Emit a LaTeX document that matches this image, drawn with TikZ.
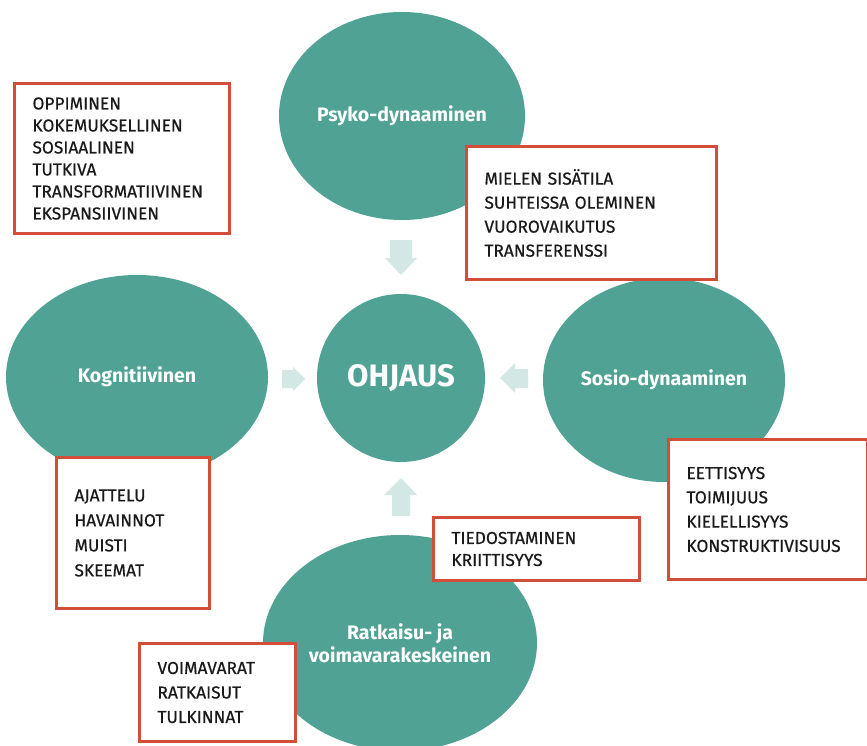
\documentclass[tikz,border=0pt]{standalone}
\usepackage{fontspec}
\setmainfont{Fira Sans}
\usetikzlibrary{shapes.geometric}
\definecolor{tealfill}{HTML}{50A295}
\definecolor{boxred}{HTML}{D24E38}
\definecolor{arrowfill}{HTML}{D3E7E4}
\definecolor{inktext}{HTML}{1A1A1A}
\tikzset{
  approach/.style={ellipse, fill=tealfill, text=white, font=\bfseries\fontsize{19.5}{23}\selectfont, align=center, inner sep=0pt},
  infobox/.style={draw=boxred, line width=3pt, fill=white, text=inktext, anchor=north west, align=left, inner xsep=18pt, inner ysep=0pt},
  flowarrow/.style={fill=arrowfill},
}
\newcommand\boxfont[1]{\fontsize{17.3}{#1}\selectfont\addfontfeatures{FakeBold=0.5}}
\begin{document}
\begin{tikzpicture}[x=1pt, y=-1pt]
  \useasboundingbox (0,0) rectangle (867,746);
  \fill[white] (0,0) rectangle (867,746);

  % approaches around the centre
  \node[approach, minimum width=246pt, minimum height=208pt] (psyko) at (402,116) {Psyko-dynaaminen};
  \node[approach, minimum width=262pt, minimum height=204pt] (kogn) at (137,377) {Kognitiivinen};
  \node[approach, minimum width=242pt, minimum height=204pt] (sosio) at (664,380) {Sosio-dynaaminen};
  \node[approach, minimum width=274pt, minimum height=216pt] (ratk) at (400,643) {Ratkaisu- ja\\voimavarakeskeinen};

  % centre
  \node[circle, fill=tealfill, text=white, minimum size=168pt, inner sep=0pt,
        font=\bfseries\fontsize{31}{34}\selectfont] (ohjaus) at (401,378) {OHJAUS};

  % arrows pointing to the centre
  \fill[flowarrow] (390,240) -- (412,240) -- (412,258) -- (417,258) -- (401,275) -- (385,258) -- (390,258) -- cycle;
  \fill[flowarrow] (401,478) -- (417,495) -- (410,495) -- (410,516) -- (392,516) -- (392,495) -- (384,495) -- cycle;
  \fill[flowarrow] (500,378) -- (515,363) -- (515,369) -- (528,369) -- (528,388) -- (515,388) -- (515,393) -- cycle;
  \fill[flowarrow] (305,379) -- (293,367) -- (293,370) -- (282,370) -- (282,388) -- (293,388) -- (293,391) -- cycle;

  % keyword boxes
  \node[infobox, text width=179pt, minimum height=150pt, font=\boxfont{22}] (learn) at (13,82)
    {OPPIMINEN\\KOKEMUKSELLINEN\\SOSIAALINEN\\TUTKIVA\\TRANSFORMATIIVINEN\\EKSPANSIIVINEN};
  \node[infobox, text width=214pt, minimum height=133pt, font=\boxfont{24}] (mind) at (465,145)
    {MIELEN SISÄTILA\\SUHTEISSA OLEMINEN\\VUOROVAIKUTUS\\TRANSFERENSSI};
  \node[infobox, text width=117pt, minimum height=151pt, font=\boxfont{25}] (think) at (55,456)
    {AJATTELU\\HAVAINNOT\\MUISTI\\SKEEMAT};
  \node[infobox, text width=163pt, minimum height=140pt, font=\boxfont{24.3}] (ethics) at (667,438)
    {EETTISYYS\\TOIMIJUUS\\KIELELLISYYS\\KONSTRUKTIVISUUS};
  \node[infobox, text width=170pt, minimum height=63pt, font=\boxfont{22}] (aware) at (432,516)
    {TIEDOSTAMINEN\\KRIITTISYYS};
  \node[infobox, text width=120pt, minimum height=98pt, font=\boxfont{24.5}] (power) at (138,642)
    {VOIMAVARAT\\RATKAISUT\\TULKINNAT};
\end{tikzpicture}
\end{document}
